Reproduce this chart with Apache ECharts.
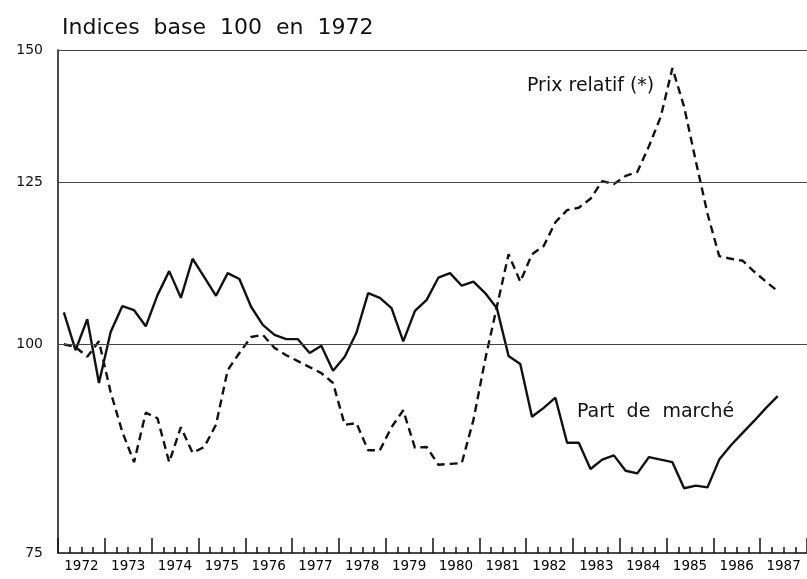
<!DOCTYPE html>
<html>
<head>
<meta charset="utf-8">
<script src="https://cdn.jsdelivr.net/npm/echarts@6/dist/echarts.min.js"></script>
<style>
  html, body { margin: 0; padding: 0; background: #fff; }
  #chart { width: 807px; height: 579px; }
</style>
</head>
<body>
<div id="chart"></div>
<script>
// Années (étiquettes de l'axe) et trimestres (positions des points)
const years = ['1972', '1973', '1974', '1975', '1976', '1977', '1978', '1979',
  '1980', '1981', '1982', '1983', '1984', '1985', '1986', '1987'];
const quarters = years.flatMap(y => ['T1', 'T2', 'T3', 'T4'].map(q => y + q));

// Graduations de l'axe vertical (échelle logarithmique)
const yTicks = [75, 100, 125, 150];

// Part de marché, indices trimestriels base 100 en 1972
const partMarche = [
  104.5, 99.2, 103.5, 94.8, 101.7, 105.4, 104.8, 102.5, 107.0, 110.6,
  106.6, 112.5, 109.7, 106.9, 110.3, 109.4, 105.3, 102.7, 101.3, 100.7,
  100.7, 98.8, 99.8, 96.4, 98.3, 101.6, 107.3, 106.6, 105.1, 100.4,
  104.7, 106.3, 109.6, 110.3, 108.4, 109.0, 107.3, 105.1, 98.4, 97.3,
  90.5, 91.6, 92.9, 87.3, 87.3, 84.2, 85.3, 85.8, 84.0, 83.7,
  85.6, 85.3, 85.0, 82.0, 82.3, 82.1, 85.3, 87.0, 88.5, 90.0,
  91.6, 93.1
];

// Prix relatif (*), indices trimestriels base 100 en 1972
const prixRelatif = [
  100.0, 99.6, 98.3, 100.4, 93.6, 88.6, 85.0, 91.0, 90.3, 85.0,
  89.2, 86.1, 86.8, 89.5, 96.5, 98.8, 101.0, 101.3, 99.5, 98.5,
  97.7, 96.9, 96.1, 94.8, 89.5, 89.7, 86.4, 86.4, 89.2, 91.3,
  86.7, 86.8, 84.7, 84.8, 84.9, 90.1, 97.9, 105.3, 113.2, 109.0,
  113.2, 114.5, 118.3, 120.3, 120.7, 122.2, 125.2, 124.7, 126.1, 126.8,
  131.4, 136.8, 146.3, 138.7, 128.7, 119.7, 112.9, 112.5, 112.2, 110.5,
  109.0, 107.6
];

const ink = '#111';
const font = 'DejaVu Sans';

const chart = echarts.init(document.getElementById('chart'));

const option = {
  backgroundColor: '#fff',
  animation: false,
  textStyle: { fontFamily: font, color: ink },
  grid: { left: 58, right: -3, top: 50, bottom: 26 },
  graphic: [
    {
      type: 'text', left: 62, top: 17,
      style: { text: 'Indices  base  100  en  1972', font: '22px "DejaVu Sans"', fill: ink }
    },
    {
      type: 'text', left: 527, top: 77,
      style: { text: 'Prix relatif (*)', font: '19px "DejaVu Sans"', fill: ink }
    },
    {
      type: 'text', left: 577, top: 403,
      style: { text: 'Part  de  marché', font: '19px "DejaVu Sans"', fill: ink }
    }
  ],
  xAxis: [
    {
      // trimestres : petites graduations
      type: 'category',
      data: quarters,
      boundaryGap: true,
      position: 'bottom',
      axisLine: { show: true, lineStyle: { color: ink, width: 1.5 } },
      axisTick: { show: true, inside: true, length: 6, interval: 0, lineStyle: { color: ink, width: 1.5 } },
      axisLabel: { show: false },
      splitLine: { show: false }
    },
    {
      // années : grandes graduations et étiquettes
      type: 'category',
      data: years,
      boundaryGap: true,
      position: 'bottom',
      axisLine: { show: false },
      axisTick: { show: true, inside: true, length: 15, interval: 0, lineStyle: { color: ink, width: 1.5 } },
      axisLabel: { show: true, interval: 0, margin: 6, fontSize: 13.5, color: '#000', fontFamily: font },
      splitLine: { show: false }
    }
  ],
  yAxis: {
    type: 'log',
    logBase: 10,
    min: 75,
    max: 150,
    axisLine: { show: true, lineStyle: { color: ink, width: 1.5 } },
    axisTick: { show: false },
    axisLabel: { show: false },
    splitLine: { show: false }
  },
  series: [
    {
      name: 'Part de marché',
      type: 'line',
      xAxisIndex: 0,
      data: partMarche,
      symbol: 'none',
      lineStyle: { color: ink, width: 2.4 },
      z: 3,
      markLine: {
        silent: true,
        symbol: 'none',
        animation: false,
        lineStyle: { color: '#444', width: 1.2, type: 'solid' },
        label: {
          show: true, position: 'start', distance: 15,
          formatter: p => String(p.value),
          fontFamily: font, fontSize: 14, color: ink
        },
        emphasis: { disabled: true },
        data: yTicks.map(v => ({ yAxis: v }))
      }
    },
    {
      name: 'Prix relatif (*)',
      type: 'line',
      xAxisIndex: 0,
      data: prixRelatif,
      symbol: 'none',
      lineStyle: { color: ink, width: 2.4, type: [8, 5] },
      z: 3
    }
  ]
};

chart.setOption(option);
</script>
</body>
</html>
